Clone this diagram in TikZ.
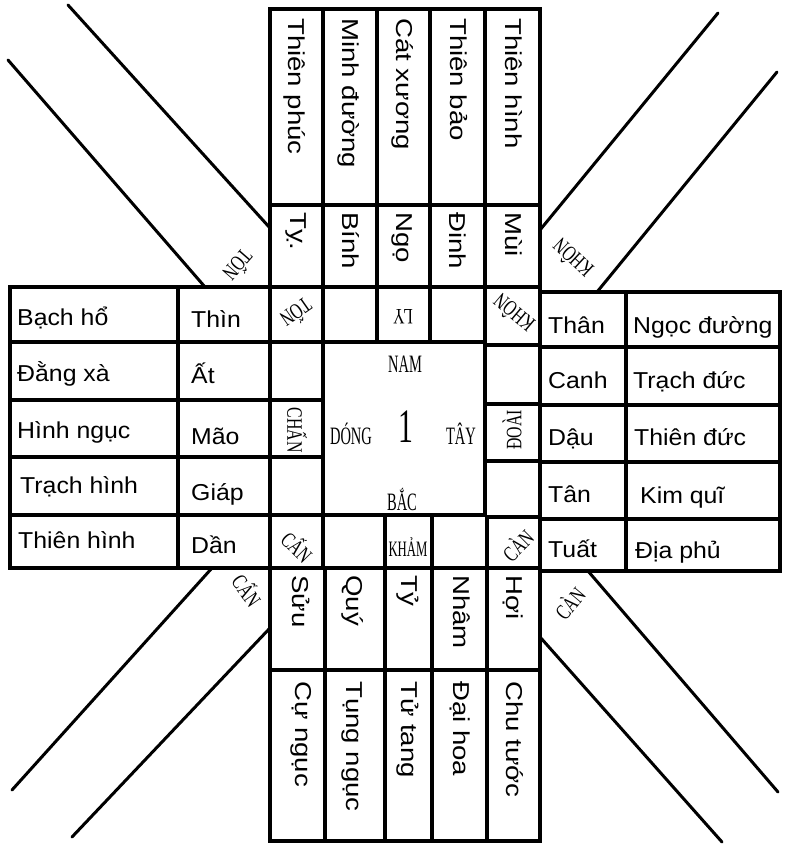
\documentclass[tikz,border=0pt]{standalone}
\usepackage{fontspec}
\usepackage{graphicx}
\setmainfont{Liberation Serif}
\newfontfamily\sansf{Liberation Sans}
\newcommand{\hsx}[1]{\scalebox{1.08}[1]{#1}}
\newcommand{\vsx}[1]{\scalebox{1.2}[1]{#1}}
\newcommand{\lsx}[1]{\scalebox{0.72}[1]{#1}}
\newcommand{\csx}[1]{\scalebox{0.58}[1]{#1}}
\tikzset{
  gridline/.style={line width=3.2pt},
  diag/.style={line width=3pt, line cap=round},
  hname/.style={font={\sansf\fontsize{23}{26}\selectfont}, anchor=base west, inner sep=0pt},
  vname/.style={font={\sansf\fontsize{23}{26}\selectfont}, rotate=-90, anchor=west, inner sep=0pt, text height=17pt, text depth=5pt},
  lab/.style={font={\fontsize{22}{22}\selectfont}, inner sep=0pt},
  clab/.style={font={\fontsize{25}{25}\selectfont}, inner sep=0pt},
}
\begin{document}
\begin{tikzpicture}[x=1pt,y=-1pt]
\useasboundingbox (0,0) rectangle (786,844);
% ---------- top block ----------
\draw[gridline] (270,9) rectangle (540,287);
\foreach \xx in {323,377,430,485} \draw[gridline] (\xx,9) -- (\xx,287);
\draw[gridline] (270,205) -- (540,205);
% ---------- inner ring ----------
\draw[gridline] (270,287) rectangle (540,568);
\foreach \xx in {323,377,430,485} \draw[gridline] (\xx,287) -- (\xx,342);
\foreach \xx in {323,385,432,487} \draw[gridline] (\xx,515) -- (\xx,568);
\foreach \yy in {342,400,457,515} \draw[gridline] (270,\yy) -- (323,\yy);
\foreach \yy in {345,404,461,517} \draw[gridline] (485,\yy) -- (540,\yy);
\draw[gridline] (323,342) rectangle (485,515);
% ---------- left block ----------
\draw[gridline] (10,287) rectangle (270,568);
\foreach \yy in {342,400,457,515} \draw[gridline] (10,\yy) -- (270,\yy);
\draw[gridline] (178,287) -- (178,568);
% ---------- right block ----------
\draw[gridline] (540,292) rectangle (780,571);
\foreach \yy in {347,405,462,519} \draw[gridline] (540,\yy) -- (780,\yy);
\draw[gridline] (626,292) -- (626,571);
% ---------- bottom block ----------
\draw[gridline] (270,568) rectangle (540,841);
\foreach \xx in {325,385,432,487} \draw[gridline] (\xx,568) -- (\xx,841);
\draw[gridline] (270,670) -- (540,670);
% ---------- diagonals ----------
\draw[diag] (68,5) -- (270,228);
\draw[diag] (8,60) -- (205,287);
\draw[diag] (540,230) -- (718,13);
\draw[diag] (597,292) -- (777,72);
\draw[diag] (212,568) -- (12,790);
\draw[diag] (270,628) -- (72,837);
\draw[diag] (588,571) -- (778,792);
\draw[diag] (540,637) -- (722,842);
% ---------- top texts ----------
\node[vname] (tn1) at (294,18) {\vsx{Thiên phúc}};
\node[vname] (tn2) at (348,18) {\vsx{Minh đường}};
\node[vname] (tn3) at (402,18) {\vsx{Cát xương}};
\node[vname] (tn4) at (456,18) {\vsx{Thiên bảo}};
\node[vname] (tn5) at (511,18) {\vsx{Thiên hình}};
\node[vname] (tb1) at (296,212) {\vsx{Tỵ.}};
\node[vname] (tb2) at (348,212) {\vsx{Bính}};
\node[vname] (tb3) at (402,212) {\vsx{Ngọ}};
\node[vname] (tb4) at (455,212) {\vsx{Đinh}};
\node[vname] (tb5) at (511,212) {\vsx{Mùi}};
% ---------- bottom texts ----------
\node[vname] (bb1) at (298,575) {\vsx{Sửu}};
\node[vname] (bb2) at (352,575) {\vsx{Quý}};
\node[vname] (bb3) at (407,575) {\vsx{Tỷ}};
\node[vname] (bb4) at (459,575) {\vsx{Nhâm}};
\node[vname] (bb5) at (512,575) {\vsx{Hợi}};
\node[vname] (bn1) at (301,681) {\vsx{Cự ngục}};
\node[vname] (bn2) at (352,681) {\vsx{Tụng ngục}};
\node[vname] (bn3) at (407,681) {\vsx{Tử tang}};
\node[vname] (bn4) at (459,681) {\vsx{Đại hoa}};
\node[vname] (bn5) at (512,681) {\vsx{Chu tước}};
% ---------- left texts ----------
\node[hname] (ln1) at (17,325) {\hsx{Bạch hổ}};
\node[hname] (ln2) at (17,381) {\hsx{Đằng xà}};
\node[hname] (ln3) at (17,438) {\hsx{Hình ngục}};
\node[hname] (ln4) at (20,493) {\hsx{Trạch hình}};
\node[hname] (ln5) at (18,548) {\hsx{Thiên hình}};
\node[hname] (lb1) at (191,327) {\hsx{Thìn}};
\node[hname] (lb2) at (191,383) {\hsx{Ất}};
\node[hname] (lb3) at (191,444) {\hsx{Mão}};
\node[hname] (lb4) at (191,500) {\hsx{Giáp}};
\node[hname] (lb5) at (191,553) {\hsx{Dần}};
% ---------- right texts ----------
\node[hname] (rb1) at (548,333) {\hsx{Thân}};
\node[hname] (rb2) at (548,388) {\hsx{Canh}};
\node[hname] (rb3) at (548,445) {\hsx{Dậu}};
\node[hname] (rb4) at (548,502) {\hsx{Tân}};
\node[hname] (rb5) at (548,557) {\hsx{Tuất}};
\node[hname] (rn1) at (633,333) {\hsx{Ngọc đường}};
\node[hname] (rn2) at (633,388) {\hsx{Trạch đức}};
\node[hname] (rn3) at (634,445) {\hsx{Thiên đức}};
\node[hname] (rn4) at (640,503) {\hsx{Kim quĩ}};
\node[hname] (rn5) at (635,558) {\hsx{Địa phủ}};
% ---------- ring labels ----------
\node[lab, rotate=215] (iton) at (297,314) {\lsx{TỐN}};
\node[lab, rotate=180] (ily) at (403,317) {\lsx{LY}};
\node[lab, rotate=140] (ikhon) at (513,314) {\lsx{KHÔN}};
\node[lab, rotate=-90] (ichan) at (297,430) {\lsx{CHẤN}};
\node[lab, rotate=90] (idoai) at (512,430) {\lsx{ĐOÀI}};
\node[lab, rotate=-45] (ican) at (298,546) {\lsx{CẤN}};
\node[lab] (ikham) at (408,547) {\csx{KHẢM}};
\node[lab, rotate=45] (icanb) at (517,545) {\lsx{CÀN}};
% ---------- outer corner labels ----------
\node[lab, rotate=229] (oton) at (239,266) {\lsx{TỐN}};
\node[lab, rotate=137] (okhon) at (572,259) {\lsx{KHÔN}};
\node[lab, rotate=-55] (ocan) at (248,590) {\lsx{CẤN}};
\node[lab, rotate=50] (ocanb) at (569,603) {\lsx{CÀN}};
% ---------- centre ----------
\node[clab] (nam) at (405,364) {\csx{NAM}};
\node[clab] (dong) at (351,434) {\csx{DÓNG}};
\node[clab] (tay) at (461,434) {\csx{TÂY}};
\node[clab] (bac) at (402,500) {\csx{BẮC}};
\node[font={\fontsize{48}{48}\selectfont}, inner sep=0pt] (one) at (406,427) {\scalebox{0.62}[1]{1}};
\end{tikzpicture}
\end{document}
